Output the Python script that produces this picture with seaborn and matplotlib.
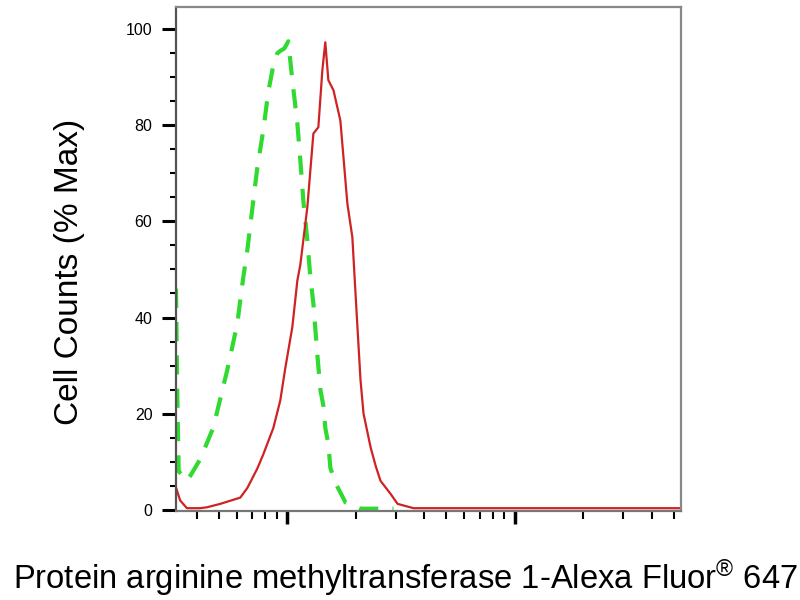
import matplotlib
matplotlib.use("Agg")
import matplotlib.pyplot as plt
import matplotlib.ticker as mticker
import seaborn as sns
import numpy as np

# ---- data ----
ctrl_x = [32.4, 32.8, 33.3, 36.2, 37.4, 41.4, 47.2, 54.4, 60.2, 64.0, 66.7, 70.1, 73.7,
          78.4, 82.5, 86.8, 90.3, 93.1, 97.0, 101.0, 105.2, 110.7, 114.1, 117.6, 122.5,
          126.3, 130.2, 135.5, 139.7, 144.0, 146.9, 151.5, 154.6, 162.6, 180.2, 209.8,
          256.9, 293.0]
ctrl_y = [46.0, 25.0, 8.0, 6.0, 7.0, 10.5, 17.0, 29.0, 38.6, 48.3, 54.0, 62.5, 71.0,
          79.0, 87.0, 92.5, 95.0, 95.5, 96.0, 97.5, 89.4, 80.4, 72.7, 64.4, 56.0,
          48.3, 42.9, 32.3, 25.0, 21.7, 17.0, 13.7, 8.7, 5.6, 1.5, 0.2,
          0.2, 0.2]

prmt1_x = [32.4, 33.8, 36.2, 41.4, 44.4, 50.7, 62.1, 66.7, 73.7, 78.4, 86.8, 93.1, 98.0,
           105.2, 110.7, 114.1, 122.5, 130.2, 136.9, 142.6, 146.9, 151.5, 159.6, 171.1,
           183.7, 193.2, 198.0, 203.4, 209.8, 216.3, 232.3, 245.0, 256.9, 284.3, 305.4,
           359.0, 600.0, 1500.0, 5383.0]
prmt1_y = [4.6, 1.9, 0.3, 0.3, 0.5, 1.2, 2.5, 4.5, 8.5, 11.5, 17.0, 22.7, 29.5,
           38.0, 47.7, 51.0, 63.0, 78.3, 79.6, 91.5, 97.3, 89.4, 87.3, 81.0,
           63.7, 56.7, 47.7, 38.0, 27.0, 20.0, 13.0, 9.0, 6.0, 3.3, 1.2,
           0.3, 0.3, 0.3, 0.3]

x_label = "Protein arginine methyltransferase 1-Alexa Fluor$^{®}$ 647"
y_label = "Cell Counts (% Max)"
y_major = [0, 20, 40, 60, 80, 100]

# ---- style ----
sns.set_style("white")
plt.rcParams["font.family"] = ["Liberation Sans", "DejaVu Sans"]
plt.rcParams["mathtext.fontset"] = "custom"
plt.rcParams["mathtext.rm"] = "Liberation Sans"
plt.rcParams["mathtext.it"] = "Liberation Sans:italic"
plt.rcParams["mathtext.bf"] = "Liberation Sans:bold"
plt.rcParams["text.color"] = "black"
plt.rcParams["axes.labelcolor"] = "black"
plt.rcParams["xtick.color"] = "black"
plt.rcParams["ytick.color"] = "black"

fig = plt.figure(figsize=(8, 6), dpi=100)
ax = fig.add_axes([0.22, 0.149, 0.63125, 0.839])

sns.lineplot(x=ctrl_x, y=ctrl_y, ax=ax, color="#30da30", linewidth=3.0,
             linestyle=(0, (4.6, 3.4)), estimator=None, sort=False)
sns.lineplot(x=prmt1_x, y=prmt1_y, ax=ax, color="#cf2222", linewidth=1.6,
             estimator=None, sort=False)

ax.set_xscale("log")
ax.set_xlim(32.4, 5383)
ax.set_ylim(-0.2, 104.6)

ax.xaxis.set_major_locator(mticker.FixedLocator([100, 1000]))
ax.xaxis.set_minor_locator(mticker.LogLocator(base=10, subs=np.arange(2, 10)))
ax.xaxis.set_major_formatter(mticker.NullFormatter())
ax.xaxis.set_minor_formatter(mticker.NullFormatter())

ax.yaxis.set_major_locator(mticker.FixedLocator(y_major))
ax.yaxis.set_minor_locator(mticker.MultipleLocator(5))

ax.tick_params(axis="y", which="major", direction="out", length=10, width=2.2,
               color="black", labelsize=11.5, labelcolor="black", pad=7, left=True)
ax.tick_params(axis="y", which="minor", direction="out", length=4.3, width=1.5,
               color="black", left=True)
ax.tick_params(axis="x", which="major", direction="out", length=9, width=2.5,
               color="black", bottom=True)
ax.tick_params(axis="x", which="minor", direction="out", length=5.5, width=1.5,
               color="black", bottom=True)

for side, col in [("left", "#555555"), ("bottom", "#777777"),
                  ("top", "#888888"), ("right", "#888888")]:
    ax.spines[side].set_visible(True)
    ax.spines[side].set_color(col)
    ax.spines[side].set_linewidth(1.6)

ax.set_xlabel(x_label, fontsize=23.6, color="black")
ax.xaxis.set_label_coords(0.454, -0.092)
ax.set_ylabel(y_label, fontsize=24, color="black")
ax.yaxis.set_label_coords(-0.18, 0.474)

fig.savefig("out.png", dpi=100, facecolor="white")
